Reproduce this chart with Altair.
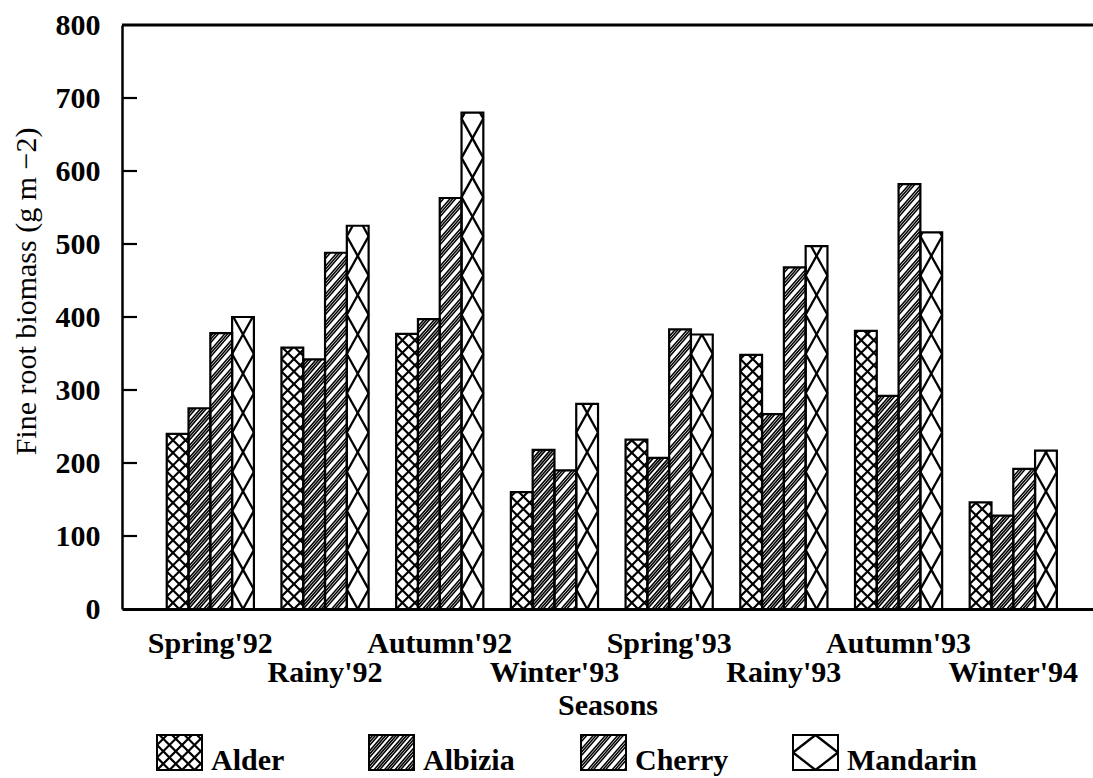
import math

import altair as alt
import pandas as pd

# ---- data -----------------------------------------------------------------
seasons = ["Spring'92", "Rainy'92", "Autumn'92", "Winter'93",
           "Spring'93", "Rainy'93", "Autumn'93", "Winter'94"]
species = ["Alder", "Albizia", "Cherry", "Mandarin"]

alder = [240, 358, 377, 160, 232, 348, 381, 146]
albizia = [275, 342, 397, 218, 207, 267, 292, 128]
cherry = [378, 488, 563, 190, 383, 468, 582, 192]
mandarin = [400, 525, 680, 281, 376, 497, 516, 217]

y_ticks = [0, 100, 200, 300, 400, 500, 600, 700, 800]
inner_ticks = [100, 200, 300, 400, 500, 600, 700]

series = {"Alder": alder, "Albizia": albizia, "Cherry": cherry, "Mandarin": mandarin}

# ---- layout ---------------------------------------------------------------
FONT = "Liberation Serif"
FS = 30
W, H = 971, 584
Y_MAX = 800
BAR_W = 0.19          # bar width in season units (one season = 1)
X_LO, X_HI = -0.39, 8.075
PX_X = W / (X_HI - X_LO)
PX_Y = H / Y_MAX

# hatch styles: (slope, period in px, anchor, offsets within a period);
# period None -> one lattice cell per swatch width
HATCH = {
    "Alder": dict(lines=[(1.0, 12.5, "left", [0]), (-1.0, 12.5, "left", [0])], width=2.2),
    "Albizia": dict(lines=[(1.15, 12.0, "left", [0, 3.2, 6.4])], width=1.6),
    "Cherry": dict(lines=[(1.15, 14.0, "left", [0, 3.2, 6.4])], width=1.5),
    "Mandarin": dict(lines=[(1.8, None, "center", [0]), (-1.8, None, "center", [0])], width=2.3),
}


def hatch(x0, x1, h, slope, period, anchor, offsets):
    """Line segments y = slope*(x-a) + k*period + off clipped to [x0,x1]x[0,h]."""
    a = x0 if anchor == "left" else (x0 + x1) / 2
    if period is None:
        period = abs(slope) * (x1 - x0)
    cs = [y - slope * (x - a) for x in (x0, x1) for y in (0, h)]
    out = []
    for k in range(math.floor(min(cs) / period) - 1, math.ceil(max(cs) / period) + 1):
        for off in offsets:
            c = k * period + off
            xa = a + (0 - c) / slope
            xb = a + (h - c) / slope
            lo = max(x0, min(xa, xb))
            hi = min(x1, max(xa, xb))
            if hi - lo > 0.3:
                out.append((lo, slope * (lo - a) + c, hi, slope * (hi - a) + c))
    return out


bar_rows, hatch_rows = [], []
for g, season in enumerate(seasons):
    for j, sp in enumerate(species):
        v = series[sp][g]
        left = g + j * BAR_W
        bar_rows.append(dict(season=season, species=sp, x0=left, x1=left + BAR_W, value=v))
        px0 = (left - X_LO) * PX_X
        px1 = px0 + BAR_W * PX_X
        ph = v * PX_Y
        for slope, period, anchor, offs in HATCH[sp]["lines"]:
            for ax, ay, bx, by in hatch(px0, px1, ph, slope, period, anchor, offs):
                hatch_rows.append(dict(species=sp,
                                       x=X_LO + ax / PX_X, y=ay / PX_Y,
                                       x2=X_LO + bx / PX_X, y2=by / PX_Y,
                                       sw=HATCH[sp]["width"]))

bars = pd.DataFrame(bar_rows)
hatches = pd.DataFrame(hatch_rows)
labels = pd.DataFrame({"season": seasons,
                       "lx": [g + 2 * BAR_W for g in range(len(seasons))],
                       "row": [g % 2 for g in range(len(seasons))]})

# legend (pixel coordinates inside the chart padding below the plot)
LEG_LEFT, LEG_STEP, LEG_TOP = 35, 212, 710
SW_W, SW_H = 45, 35
leg_rows, leg_hatch = [], []
for j, sp in enumerate(species):
    x0 = LEG_LEFT + j * LEG_STEP
    x1 = x0 + SW_W
    y0, y1 = LEG_TOP, LEG_TOP + SW_H
    leg_rows.append(dict(species=sp, x0=x0, x1=x1, y0=y0, y1=y1, tx=x1 + 9, ty=y1))
    lines = HATCH[sp]["lines"]
    if sp == "Mandarin":
        s = SW_H / SW_W
        lines = [(s, None, "center", [0]), (-s, None, "center", [0])]
    for slope, period, anchor, offs in lines:
        for ax, ay, bx, by in hatch(x0, x1, SW_H, slope, period, anchor, offs):
            leg_hatch.append(dict(x=ax, y=y1 - ay, x2=bx, y2=y1 - by, sw=HATCH[sp]["width"]))
legend = pd.DataFrame(leg_rows)
legend_hatch = pd.DataFrame(leg_hatch)

# ---- chart ----------------------------------------------------------------
xs = alt.Scale(domain=[X_LO, X_HI], nice=False, zero=False)
ys = alt.Scale(domain=[0, Y_MAX], nice=False, zero=True)

x_axis = alt.Axis(orient="bottom", labels=False, ticks=False, tickSize=0, grid=False,
                  domain=True, domainWidth=3, domainColor="black",
                  title="Seasons", titleFont=FONT, titleFontSize=FS, titleFontWeight="bold",
                  titleColor="black", titleY=105, titleBaseline="alphabetic")
y_axis = alt.Axis(values=y_ticks, ticks=False, tickSize=0, grid=False,
                  domainWidth=2.5, domainColor="black",
                  labelFont=FONT, labelFontSize=FS, labelFontWeight="bold",
                  labelColor="black", labelPadding=22,
                  title="Fine root biomass (g m \u22122)", titleFont=FONT, titleFontSize=FS,
                  titleFontWeight="normal", titleColor="black", titleAngle=270,
                  titleX=-87, titleY=266, titleAlign="center", titleBaseline="alphabetic")

base_fill = alt.Chart(bars).mark_rect(fill="white").encode(
    x=alt.X("x0:Q", scale=xs, axis=x_axis),
    x2="x1:Q",
    y=alt.Y("value:Q", scale=ys, axis=y_axis),
    y2=alt.datum(0),
)

hatch_layer = alt.Chart(hatches).mark_rule(color="black").encode(
    x=alt.X("x:Q", scale=xs),
    x2="x2:Q",
    y=alt.Y("y:Q", scale=ys),
    y2="y2:Q",
    strokeWidth=alt.StrokeWidth("sw:Q", scale=None),
)

outline = alt.Chart(bars).mark_rect(fillOpacity=0, stroke="black", strokeWidth=2.2).encode(
    x=alt.X("x0:Q", scale=xs),
    x2="x1:Q",
    y=alt.Y("value:Q", scale=ys),
    y2=alt.datum(0),
)

ticks_in = alt.Chart(pd.DataFrame({"t": inner_ticks})).mark_rule(
    color="black", strokeWidth=2.2
).encode(y=alt.Y("t:Q", scale=ys), x=alt.value(0), x2=alt.value(15))

top_line = alt.Chart(pd.DataFrame({"k": [0]})).mark_rule(color="black", strokeWidth=3).encode(
    y=alt.value(0), x=alt.value(0), x2=alt.value(W)
)

label_rows = []
for row, ypix in ((0, 628), (1, 657)):
    label_rows.append(
        alt.Chart(labels).transform_filter(alt.datum.row == row).mark_text(
            font=FONT, fontSize=FS, fontWeight="bold", baseline="alphabetic",
            align="center", color="black"
        ).encode(x=alt.X("lx:Q", scale=xs), y=alt.value(ypix), text="season:N")
    )

leg_fill = alt.Chart(legend).mark_rect(fill="white").encode(
    x=alt.X("x0:Q", scale=None), x2="x1:Q",
    y=alt.Y("y0:Q", scale=None), y2="y1:Q",
)
leg_h = alt.Chart(legend_hatch).mark_rule(color="black").encode(
    x=alt.X("x:Q", scale=None), x2="x2:Q",
    y=alt.Y("y:Q", scale=None), y2="y2:Q",
    strokeWidth=alt.StrokeWidth("sw:Q", scale=None),
)
leg_box = alt.Chart(legend).mark_rect(fillOpacity=0, stroke="black", strokeWidth=2).encode(
    x=alt.X("x0:Q", scale=None), x2="x1:Q",
    y=alt.Y("y0:Q", scale=None), y2="y1:Q",
)
leg_text = alt.Chart(legend).mark_text(
    font=FONT, fontSize=FS, fontWeight="bold", baseline="alphabetic", align="left", color="black"
).encode(
    x=alt.X("tx:Q", scale=None),
    y=alt.Y("ty:Q", scale=None),
    text="species:N",
)

chart = alt.layer(
    base_fill, hatch_layer, outline, ticks_in, top_line, *label_rows,
    leg_fill, leg_h, leg_box, leg_text,
).properties(
    width=W, height=H,
    autosize=alt.AutoSizeParams(type="none"),
    padding={"left": 122, "top": 25, "right": 0, "bottom": 169},
    background="white",
).configure_view(stroke=None)

chart.save("out.html", embed_options={"renderer": "svg", "actions": False})
